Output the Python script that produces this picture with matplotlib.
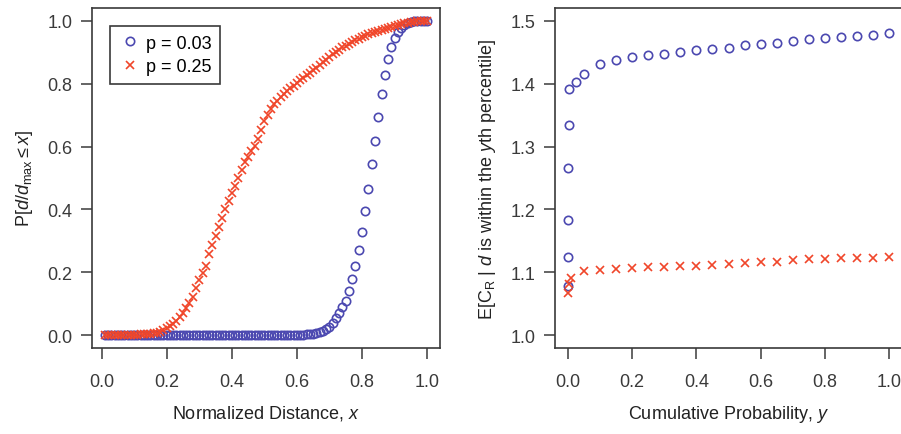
import numpy as np
import matplotlib
matplotlib.use("Agg")
import matplotlib.pyplot as plt

plt.rcParams['font.family'] = ['Liberation Sans', 'DejaVu Sans']
plt.rcParams['mathtext.fontset'] = 'custom'
plt.rcParams['mathtext.rm'] = 'Liberation Sans'
plt.rcParams['mathtext.it'] = 'Liberation Sans:italic'
plt.rcParams['mathtext.sf'] = 'Liberation Sans'

# left panel: CDF of normalized distance
dist_x = np.round(np.arange(0.01, 1.001, 0.01), 2)
cdf_p003 = [0.0] * 59 + [
    0.001, 0.001, 0.002, 0.003, 0.004, 0.005, 0.007, 0.010, 0.014, 0.020,
    0.028, 0.040, 0.055, 0.072, 0.090, 0.108, 0.141, 0.179, 0.221, 0.271,
    0.330, 0.394, 0.466, 0.544, 0.619, 0.695, 0.767, 0.827, 0.877, 0.915,
    0.944, 0.965, 0.978, 0.987, 0.993, 0.996, 0.998, 0.999, 1.0, 1.0, 1.0]
cdf_p025 = [
    0.0, 0.0, 0.0, 0.0, 0.0, 0.001, 0.001, 0.001, 0.001, 0.002,
    0.002, 0.003, 0.003, 0.004, 0.005, 0.007, 0.009, 0.012, 0.016, 0.022,
    0.029, 0.037, 0.047, 0.058, 0.072, 0.087, 0.104, 0.121, 0.150, 0.175,
    0.198, 0.222, 0.258, 0.288, 0.315, 0.343, 0.372, 0.400, 0.428, 0.452,
    0.476, 0.500, 0.525, 0.550, 0.568, 0.586, 0.603, 0.625, 0.652, 0.680,
    0.700, 0.718, 0.735, 0.746, 0.757, 0.767, 0.777, 0.785, 0.793, 0.801,
    0.810, 0.818, 0.826, 0.835, 0.843, 0.851, 0.859, 0.868, 0.876, 0.885,
    0.893, 0.901, 0.908, 0.915, 0.920, 0.926, 0.932, 0.937, 0.942, 0.947,
    0.951, 0.956, 0.960, 0.963, 0.966, 0.969, 0.973, 0.976, 0.979, 0.982,
    0.985, 0.988, 0.991, 0.993, 0.995, 0.997, 0.998, 0.999, 1.0, 1.0]

# right panel: expected C_R by percentile
prob_blue = [0.0, 0.0002, 0.0005, 0.001, 0.002, 0.005, 0.025, 0.05,
             0.1, 0.15, 0.2, 0.25, 0.3, 0.35, 0.4, 0.45, 0.5, 0.55, 0.6,
             0.65, 0.7, 0.75, 0.8, 0.85, 0.9, 0.95, 1.0]
cr_p003 = [1.079, 1.124, 1.184, 1.266, 1.334, 1.392, 1.403, 1.415,
           1.431, 1.438, 1.442, 1.445, 1.447, 1.450, 1.453, 1.455, 1.457,
           1.461, 1.463, 1.465, 1.467, 1.470, 1.473, 1.474, 1.475, 1.477, 1.481]
prob_red = [0.0, 0.002, 0.01, 0.05,
            0.1, 0.15, 0.2, 0.25, 0.3, 0.35, 0.4, 0.45, 0.5, 0.55, 0.6,
            0.65, 0.7, 0.75, 0.8, 0.85, 0.9, 0.95, 1.0]
cr_p025 = [1.067, 1.082, 1.091, 1.102,
           1.104, 1.106, 1.107, 1.108, 1.109, 1.110, 1.111, 1.112, 1.113,
           1.115, 1.116, 1.117, 1.119, 1.121, 1.122, 1.123, 1.123, 1.123, 1.124]

blue = '#4b48b0'
red = '#f0462a'
edge = '#3a3a3a'

fig = plt.figure(figsize=(9.01, 4.35), dpi=100)
ax1 = fig.add_axes([0.1021, 0.1977, 0.3862, 0.7816])
ax2 = fig.add_axes([0.6160, 0.1977, 0.3851, 0.7816])

ax1.plot(dist_x, cdf_p003, 'o', ms=6, mfc='none', mec=blue, mew=1.2, label='p = 0.03')
ax1.plot(dist_x, cdf_p025, 'x', ms=6, color=red, mew=1.2, label='p = 0.25')
ax1.set_xlim(-0.0296, 1.0396)
ax1.set_ylim(-0.04, 1.04)
ax1.set_xlabel('Normalized Distance, $x$', fontsize=13, labelpad=9)
ax1.set_ylabel(r'P[$d/d_{\mathrm{max}} \leq x$]', fontsize=13, labelpad=9)
leg = ax1.legend(loc='upper left', bbox_to_anchor=(0.025, 0.975), fontsize=13,
                 fancybox=False, framealpha=1, edgecolor=edge,
                 handletextpad=0.3, borderpad=0.5, handlelength=1.2,
                 labelspacing=0.35)
leg.get_frame().set_linewidth(1.2)

ax2.plot(prob_blue, cr_p003, 'o', ms=6, mfc='none', mec=blue, mew=1.2)
ax2.plot(prob_red, cr_p025, 'x', ms=6, color=red, mew=1.2)
ax2.set_xlim(-0.04, 1.04)
ax2.set_ylim(0.98, 1.52)
ax2.set_yticks([1.0, 1.1, 1.2, 1.3, 1.4, 1.5])
ax2.set_xlabel('Cumulative Probability, $y$', fontsize=13, labelpad=9)
ax2.set_ylabel(r'E[C$_{\mathrm{R}}$ | $d$ is within the $y$th percentile]',
               fontsize=13, labelpad=9)

for ax in (ax1, ax2):
    ax.set_xticks([0.0, 0.2, 0.4, 0.6, 0.8, 1.0])
    ax.xaxis.set_major_formatter(matplotlib.ticker.FormatStrFormatter('%.1f'))
    ax.yaxis.set_major_formatter(matplotlib.ticker.FormatStrFormatter('%.1f'))
    ax.tick_params(direction='out', length=8, width=1.1, colors=edge,
                   labelsize=13, pad=6)
    ax.tick_params(axis='x', pad=10)
    for s in ax.spines.values():
        s.set_color(edge)
        s.set_linewidth(1.2)
    ax.xaxis.label.set_color('#222222')
    ax.yaxis.label.set_color('#222222')

fig.savefig('out.png', dpi=100)
